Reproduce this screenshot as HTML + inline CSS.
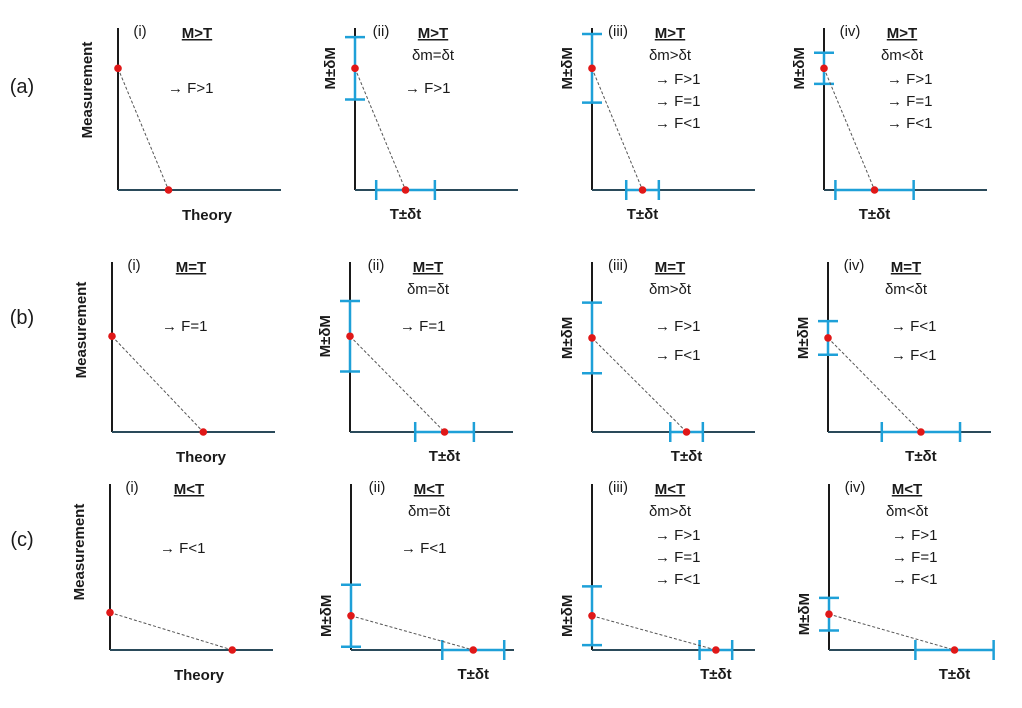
<!DOCTYPE html>
<html><head><meta charset="utf-8">
<style>
html,body{margin:0;padding:0;background:#fff;}
svg{display:block;font-family:"Liberation Sans",sans-serif;}
</style></head>
<body>
<svg id="fig" width="1022" height="708" viewBox="0 0 1022 708"></svg>
<script>
// Panel data (pixel-free semantic content)
const rowLabels = ["(a)", "(b)", "(c)"];
const colLabels = ["(i)", "(ii)", "(iii)", "(iv)"];
const relations = ["M>T", "M=T", "M<T"];
const errorRelations = ["", "δm=δt", "δm>δt", "δm<δt"];
const outcomes = [
  [["F>1"], ["F>1"], ["F>1","F=1","F<1"], ["F>1","F=1","F<1"]],
  [["F=1"], ["F=1"], ["F>1","F<1"], ["F<1","F<1"]],
  [["F<1"], ["F<1"], ["F>1","F=1","F<1"], ["F>1","F=1","F<1"]]
];
// measured value (fraction of axis height), theory value (fraction of axis width)
const mValues = [[0.78,0.78,0.78,0.78],[0.57,0.57,0.56,0.56],[0.23,0.21,0.21,0.22]];
const tValues = [[0.31,0.31,0.31,0.31],[0.56,0.58,0.58,0.57],[0.75,0.75,0.76,0.77]];
const dmValues = [[0,0.20,0.22,0.10],[0,0.21,0.21,0.10],[0,0.19,0.18,0.10]];
const dtValues = [[0,0.18,0.10,0.24],[0,0.18,0.10,0.24],[0,0.19,0.10,0.24]];

// layout
const originX = [[118,355,592,824],[112,350,592,828],[110,351,592,829]];
const originY = [190,432,650];
const axisTop = [28,262,484];
const axisW = 163;
const axisH = [156,168,163];

const NS="http://www.w3.org/2000/svg";
const svg=document.getElementById('fig');
function mk(tag,attrs,parent){const e=document.createElementNS(NS,tag);for(const k in attrs)e.setAttribute(k,attrs[k]);(parent||svg).appendChild(e);return e;}
function txt(s,x,y,size,weight,anchor,parent,rot){const e=mk('text',{x:x,y:y,'font-size':size,'font-weight':weight||'normal','text-anchor':anchor||'middle',fill:'#1a1a1a'},parent);if(rot)e.setAttribute('transform',`rotate(-90 ${x} ${y})`);e.textContent=s;return e;}

rowLabels.forEach((r,ri)=>{
  const t=txt(r,22,[93,324,546][ri],20,'normal','middle');
  
  
});

for(let r=0;r<3;r++){
  for(let c=0;c<4;c++){
    const g=mk('g',{});
    
    
    const ox=originX[r][c], oy=originY[r], top=axisTop[r], H=axisH[r];
    const xs=v=>ox+v*axisW, ys=v=>oy-v*H;
    const ya=mk('line',{x1:ox,y1:top,x2:ox,y2:oy,stroke:'#1a1a1a','stroke-width':2},g);
    
    
    const xa=mk('line',{x1:ox,y1:oy,x2:ox+axisW,y2:oy,stroke:'#2a4a5a','stroke-width':2},g);
    
    
    const mv=mValues[r][c], tv=tValues[r][c], dm=dmValues[r][c], dt=dtValues[r][c];
    const blue='#1ea0d8';
    if(c>0){
      const y1=ys(mv+dm), y2=ys(Math.max(0.005,mv-dm));
      const eb=mk('g',{stroke:blue,'stroke-width':2.5},g);
      
      
      mk('line',{x1:ox,y1:y1,x2:ox,y2:y2},eb);
      mk('line',{x1:ox-10,y1:y1,x2:ox+10,y2:y1},eb);
      mk('line',{x1:ox-10,y1:y2,x2:ox+10,y2:y2},eb);
      const x1=xs(tv-dt), x2=xs(tv+dt);
      const tb=mk('g',{stroke:blue,'stroke-width':2.5},g);
      
      
      mk('line',{x1:x1,y1:oy,x2:x2,y2:oy},tb);
      mk('line',{x1:x1,y1:oy-10,x2:x1,y2:oy+10},tb);
      mk('line',{x1:x2,y1:oy-10,x2:x2,y2:oy+10},tb);
    }
    const dl=mk('line',{x1:ox,y1:ys(mv),x2:xs(tv),y2:oy,stroke:'#555','stroke-width':1,'stroke-dasharray':'3,2'},g);
    
    
    const p1=mk('circle',{cx:ox,cy:ys(mv),r:3.8,fill:'#e01818'},g);
    
    
    const p2=mk('circle',{cx:xs(tv),cy:oy,r:3.8,fill:'#e01818'},g);
    
    
    // labels
    const tcx = ox+ (c===0?79:78);
    const cl=txt(colLabels[c],ox+ (c===0?22:26),top+8,15,'normal','middle',g);
    
    
    const rl=txt(relations[r],tcx,top+10,15,'bold','middle',g);
    rl.setAttribute('text-decoration','underline');
    
    
    if(c>0){
      const er=txt(errorRelations[c],tcx,top+32,15,'normal','middle',g);
      
      
    }
    const outs=outcomes[r][c];
    let y0 = (c<2)? top+ (r===0?65:69) : (outs.length===3? top+56 : top+69);
    if(r===0&&c>=2) y0=top+56;
    const ax = (c<2)? ox+50 : ox+63;
    const gap = outs.length===2?29:22;
    outs.forEach((o,i)=>{
      const t=txt('→ '+o,ax,y0+i*gap,15,'normal','start',g);
      
      
    });
    if(c===0){
      const yl=txt('Measurement',ox-26,top+(r===0?62:68),15,'bold','middle',g,true);
      
      
      const xl=txt('Theory',ox+89,oy+30,15,'bold','middle',g);
      
      
    } else {
      const yl=txt('M±δM',ox-20,ys(mv),15,'bold','middle',g,true);
      
      
      const xl=txt('T±δt',xs(tv),oy+29,15,'bold','middle',g);
      
      
    }
  }
}
</script>
</body></html>
